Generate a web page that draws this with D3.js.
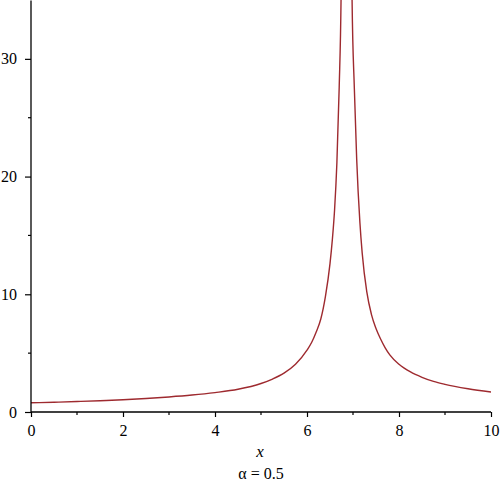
<!DOCTYPE html>
<html><head><meta charset="utf-8">
<script src="https://cdn.jsdelivr.net/npm/d3@7"></script>
<style>body{margin:0;background:#fff}svg{display:block}
svg text{font-family:"Liberation Serif","Times New Roman","DejaVu Serif","Noto Serif",Times,serif !important;}
</style>
</head><body>
<script>
const xTicks = [0,2,4,6,8,10];
const yTicks = [0,10,20,30];
const xMinor = [1,3,5,7,9];
const yMinor = [5,15,25];
// left branch of the curve (x, y)
const leftX = [0,0.5,1,1.5,2,2.5,3,3.5,4,4.5,5,5.25,5.5,5.75,6,6.1,6.2,6.3,6.4,6.5,6.55,6.6,6.65,6.7,6.74,6.77];
const leftY = [0.78,0.83,0.89,0.96,1.04,1.15,1.28,1.44,1.65,1.93,2.42,2.8,3.3,4.05,5.25,5.9,6.8,7.9,9.8,12.6,14.6,17.2,21.2,27.6,35,48];
// right branch of the curve (x, y)
const rightX = [6.95,6.98,7.03,7.08,7.15,7.2,7.3,7.4,7.5,7.6,7.7,7.8,8,8.25,8.5,8.75,9,9.5,10];
const rightY = [50,35,27.4,21.5,16.1,13.5,10.2,8.3,7.1,6.2,5.45,4.85,4.05,3.4,2.95,2.6,2.35,1.98,1.7];
const xLabel = "x";
const caption = "α = 0.5";

const W=500,H=486;
const m={l:31,r:9,t:0,b:74};
const svg=d3.select("body").append("svg").attr("width",W).attr("height",H);
const x=d3.scaleLinear().domain([0,10]).range([m.l,W-m.r]);
const y=d3.scaleLinear().domain([0,35]).range([H-m.b,m.t]);

svg.append("defs").append("clipPath").attr("id","c").append("rect")
  .attr("x",m.l).attr("y",m.t).attr("width",W-m.r-m.l).attr("height",H-m.b-m.t);

const line=d3.line().x(d=>x(d[0])).y(d=>y(d[1])).curve(d3.curveMonotoneX);
const g=svg.append("g").attr("clip-path","url(#c)");
[[leftX,leftY],[rightX,rightY]].forEach(([xs,ys])=>{
  g.append("path").datum(xs.map((v,i)=>[v,ys[i]])).attr("d",line)
   .attr("fill","none").attr("stroke","#9e2a2f").attr("stroke-width",1.4);
});

const xAxis=svg.append("g").attr("transform",`translate(0,${y(0)})`)
  .call(d3.axisBottom(x).tickValues(xTicks).tickSize(5).tickPadding(8).tickFormat(d3.format("d")));
const yAxis=svg.append("g").attr("transform",`translate(${x(0)},0)`)
  .call(d3.axisLeft(y).tickValues(yTicks).tickSize(6).tickPadding(8).tickFormat(d3.format("d")));
[xAxis,yAxis].forEach(a=>{
  a.attr("font-family",null);
  a.select(".domain").attr("stroke","#000").attr("stroke-width",1.3);
  a.selectAll(".tick line").attr("stroke","#000").attr("stroke-width",1.2);
  a.selectAll("text").attr("font-size",16).attr("fill","#000");
});
yAxis.select(".domain").attr("d",`M-0,${y(0)}V0.5`);
xAxis.select(".domain").attr("d",`M${x(0)},0H${x(10)}`);
svg.append("g").selectAll("line").data(xMinor).join("line")
  .attr("x1",d=>x(d)).attr("x2",d=>x(d)).attr("y1",y(0)).attr("y2",y(0)+3)
  .attr("stroke","#000").attr("stroke-width",1.2);
svg.append("g").selectAll("line").data(yMinor).join("line")
  .attr("x1",x(0)-3).attr("x2",x(0)).attr("y1",d=>y(d)).attr("y2",d=>y(d))
  .attr("stroke","#000").attr("stroke-width",1.2);

svg.append("text").attr("x",x(5)-1).attr("y",457).attr("text-anchor","middle")
  .attr("font-style","italic").attr("font-size",17).text(xLabel);
svg.append("text").attr("x",x(5)).attr("y",479).attr("text-anchor","middle")
  .attr("font-size",16).text(caption);
</script>
</body></html>
